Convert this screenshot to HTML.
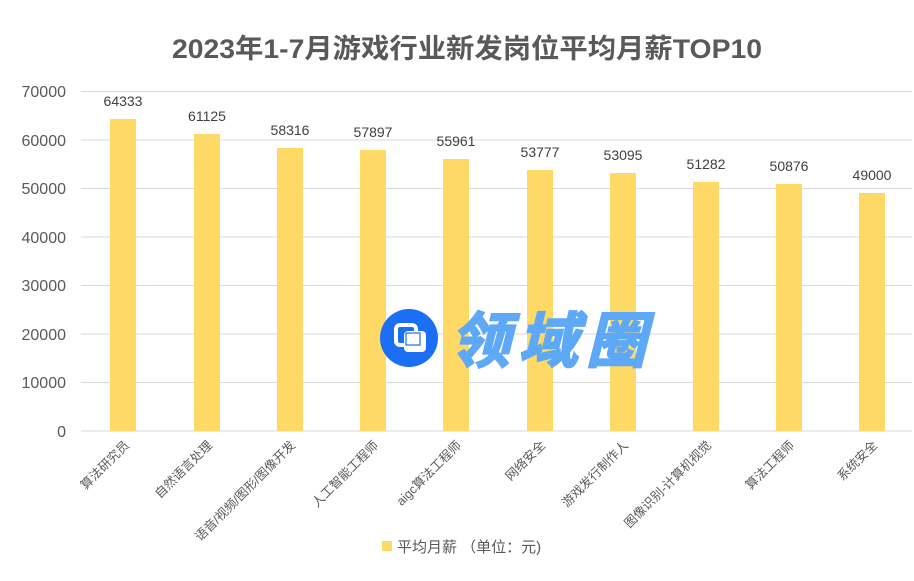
<!DOCTYPE html>
<html><head><meta charset="utf-8"><style>
html,body{margin:0;padding:0;background:#fff;}
svg{display:block;font-family:"Liberation Sans","Noto Sans CJK SC",sans-serif;}
</style></head><body>
<svg width="914" height="581" viewBox="0 0 914 581" xmlns="http://www.w3.org/2000/svg">
<rect width="914" height="581" fill="#fff"/>
<text x="467" y="58" text-anchor="middle" font-size="27" font-weight="bold" fill="#595959" textLength="590" lengthAdjust="spacingAndGlyphs">2023年1-7月游戏行业新发岗位平均月薪TOP10</text>
<g stroke="#d9d9d9" stroke-width="1">
<line x1="81" x2="912" y1="91.5" y2="91.5"/>
<line x1="81" x2="912" y1="140" y2="140"/>
<line x1="81" x2="912" y1="188.5" y2="188.5"/>
<line x1="81" x2="912" y1="237" y2="237"/>
<line x1="81" x2="912" y1="285.5" y2="285.5"/>
<line x1="81" x2="912" y1="334" y2="334"/>
<line x1="81" x2="912" y1="382.5" y2="382.5"/>
<line x1="81" x2="912" y1="431" y2="431"/>
</g>
<g font-size="16" fill="#595959" text-anchor="end">
<text x="66" y="97">70000</text><text x="66" y="146">60000</text><text x="66" y="194">50000</text><text x="66" y="243">40000</text><text x="66" y="291">30000</text><text x="66" y="340">20000</text><text x="66" y="388">10000</text><text x="66" y="437">0</text>
</g>
<g fill="#ffd966">
<rect x="110" y="119" width="26" height="312"/>
<rect x="194" y="134" width="26" height="297"/>
<rect x="277" y="148" width="26" height="283"/>
<rect x="360" y="150" width="26" height="281"/>
<rect x="443" y="159" width="26" height="272"/>
<rect x="527" y="170" width="26" height="261"/>
<rect x="610" y="173" width="26" height="258"/>
<rect x="693" y="182" width="26" height="249"/>
<rect x="776" y="184" width="26" height="247"/>
<rect x="859" y="193" width="26" height="238"/>
</g>
<g font-size="14" fill="#404040" text-anchor="middle">
<text x="123" y="106">64333</text><text x="207" y="121">61125</text><text x="290" y="135">58316</text><text x="373" y="137">57897</text><text x="456" y="146">55961</text><text x="540" y="157">53777</text><text x="623" y="160">53095</text><text x="706" y="169">51282</text><text x="789" y="171">50876</text><text x="872" y="180">49000</text>
</g>
<g font-size="12.5" fill="#595959" text-anchor="end">
<text transform="translate(130,446) rotate(-45)">算法研究员</text>
<text transform="translate(213,446) rotate(-45)">自然语言处理</text>
<text transform="translate(296,446) rotate(-45)">语音/视频/图形/图像开发</text>
<text transform="translate(379,446) rotate(-45)">人工智能工程师</text>
<text transform="translate(462,446) rotate(-45)">aigc算法工程师</text>
<text transform="translate(546,446) rotate(-45)">网络安全</text>
<text transform="translate(629,446) rotate(-45)">游戏发行制作人</text>
<text transform="translate(712,446) rotate(-45)">图像识别-计算机视觉</text>
<text transform="translate(795,446) rotate(-45)">算法工程师</text>
<text transform="translate(878,446) rotate(-45)">系统安全</text>
</g>
<rect x="382" y="541" width="10" height="10" fill="#ffd966"/>
<text x="397" y="552" font-size="15" fill="#595959">平均月薪 （单位：元)</text>
<circle cx="409" cy="338" r="29" fill="#1a6ff5"/>
<rect x="396" y="325" width="20" height="20" rx="4" fill="none" stroke="#fff" stroke-width="4"/>
<rect x="404" y="331" width="22" height="21" rx="4" fill="#fff"/>
<rect x="406" y="333" width="14" height="12" fill="none" stroke="#1a6ff5" stroke-width="1.2"/>
<text x="450" y="362" font-size="60" font-weight="bold" font-style="italic" fill="#5ea8f8" stroke="#5ea8f8" stroke-width="2" textLength="196">领域圈</text>
</svg>
</body></html>
